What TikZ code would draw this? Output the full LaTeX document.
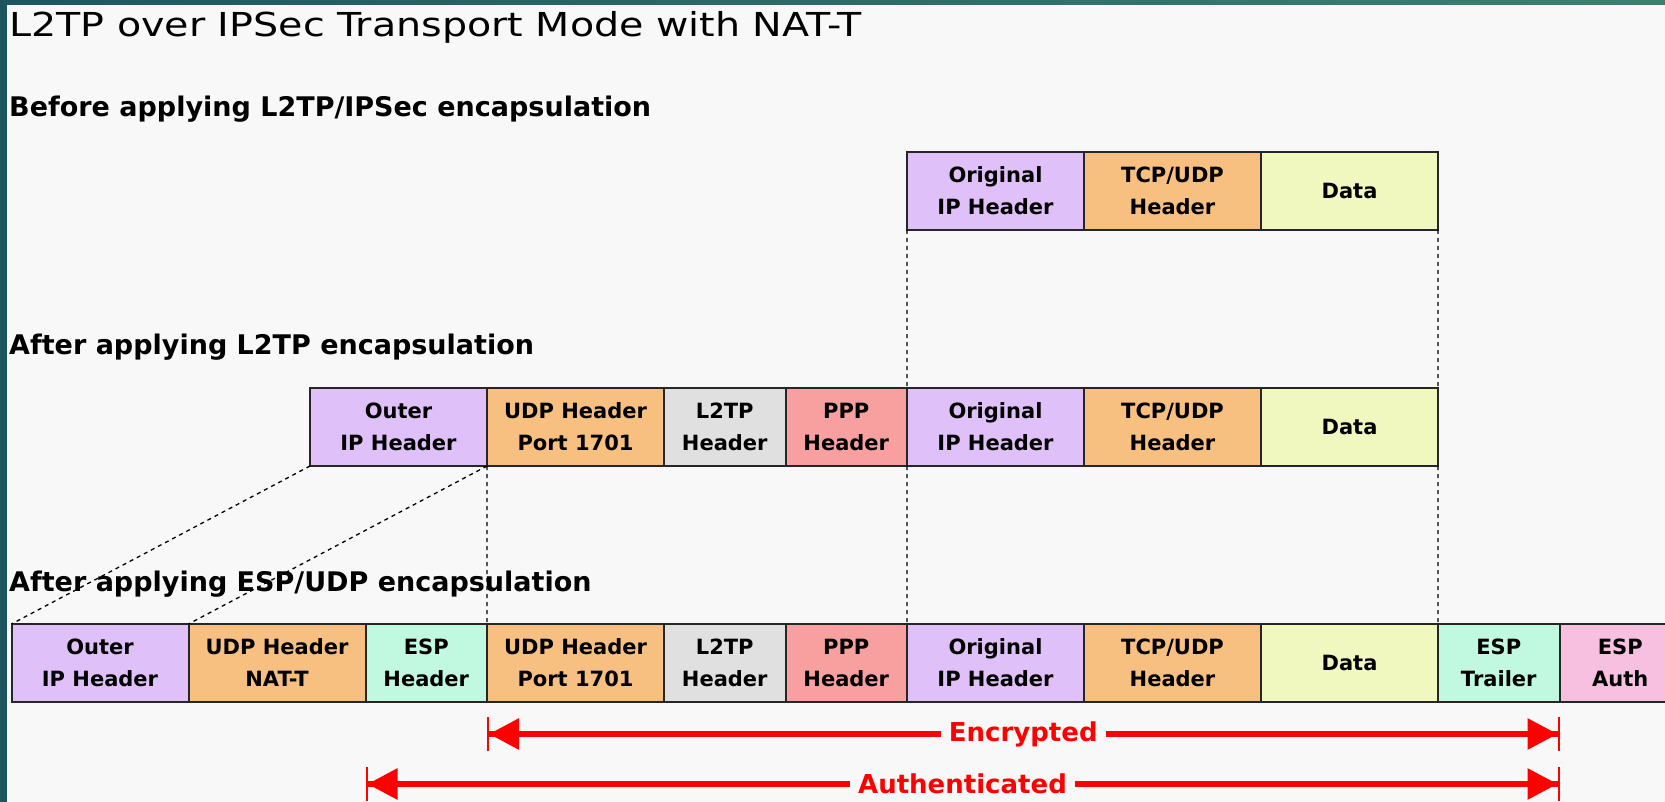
\documentclass[tikz,border=0pt]{standalone}
\usepackage{fontspec}
\setmainfont{DejaVu Sans}
\usetikzlibrary{arrows.meta, positioning}

\definecolor{bgc}{HTML}{F8F8F8}
\definecolor{tealA}{HTML}{1E5660}
\definecolor{tealB}{HTML}{3E8070}
\definecolor{purp}{HTML}{E0C0F8}
\definecolor{orng}{HTML}{F8C080}
\definecolor{datc}{HTML}{F0F8C0}
\definecolor{gry}{HTML}{E0E0E0}
\definecolor{salm}{HTML}{F8A0A0}
\definecolor{mint}{HTML}{C0F8E0}
\definecolor{pnk}{HTML}{F8C0E0}

\begin{document}
\begin{tikzpicture}[x=1pt, y=-1pt, node distance=0pt,
	main/.style = {draw=black!85, line width=2pt, outer sep=0pt, inner sep=0pt, minimum height=78pt, align=center, font=\fontsize{21}{32}\selectfont\bfseries},
	wide/.style = {main, minimum width=177pt},
	nbox/.style = {main, minimum width=121.5pt},
	lbl/.style = {anchor=west, inner sep=0pt, font=\fontsize{27}{30}\selectfont\bfseries},
	tag/.style = {fill=bgc, text=red, inner xsep=8pt, inner ysep=1pt, font=\fontsize{26}{28}\selectfont\bfseries},
	arr/.style = {red, line width=6pt, {Bar[width=34pt,line width=2pt]Triangle[length=30pt,width=30pt]}-{Triangle[length=30pt,width=30pt]Bar[width=34pt,line width=2pt]}}]
	\useasboundingbox (0,0) rectangle (1665,802);
	\fill[bgc] (0,0) rectangle (1665,802);
	\fill[tealA] (0,0) rectangle (7,802);
	\shade[left color=tealA, right color=tealB] (0,0) rectangle (1665,5);

	\node[anchor=base west, inner sep=0pt, font=\fontsize{33}{40}\selectfont] (title) at (9,37) {\scalebox{1.2}[1]{L2TP over IPSec Transport Mode with NAT-T}};
	\node[lbl] (s1) at (9,109) {Before applying L2TP/IPSec encapsulation};
	\node[lbl] (s2) at (9,347) {After applying L2TP encapsulation};
	\node[lbl] (s3) at (9,584) {After applying ESP/UDP encapsulation};

	\node[wide, fill=purp] (o1) at (995.5,191) {Original\\IP Header};
	\node[wide, fill=orng, right=of o1] (t1) {TCP/UDP\\Header};
	\node[wide, fill=datc, right=of t1] (d1) {Data};

	\node[wide, fill=purp, below=158pt of o1] (o2) {Original\\IP Header};
	\node[wide, fill=orng, right=of o2] (t2) {TCP/UDP\\Header};
	\node[wide, fill=datc, right=of t2] (d2) {Data};
	\node[nbox, fill=salm, left=of o2] (p2) {PPP\\Header};
	\node[nbox, fill=gry, left=of p2] (l2) {L2TP\\Header};
	\node[wide, fill=orng, left=of l2] (u2) {UDP Header\\Port 1701};
	\node[wide, fill=purp, left=of u2] (i2) {Outer\\IP Header};

	\node[wide, fill=purp, below=158pt of o2] (o3) {Original\\IP Header};
	\node[wide, fill=orng, right=of o3] (t3) {TCP/UDP\\Header};
	\node[wide, fill=datc, right=of t3] (d3) {Data};
	\node[nbox, fill=mint, right=of d3] (et3) {ESP\\Trailer};
	\node[nbox, fill=pnk, right=of et3] (ea3) {ESP\\Auth};
	\node[nbox, fill=salm, left=of o3] (p3) {PPP\\Header};
	\node[nbox, fill=gry, left=of p3] (l3) {L2TP\\Header};
	\node[wide, fill=orng, left=of l3] (u3) {UDP Header\\Port 1701};
	\node[nbox, fill=mint, left=of u3] (eh3) {ESP\\Header};
	\node[wide, fill=orng, left=of eh3] (n3) {UDP Header\\NAT-T};
	\node[wide, fill=purp, left=of n3] (i3) {Outer\\IP Header};

	\path[draw, dash pattern=on 4pt off 4pt, line width=1.3pt]
	(o1.south west) -- (o2.north west)
	(d1.south east) -- (d2.north east)
	(o2.south west) -- (o3.north west)
	(d2.south east) -- (d3.north east)
	(u2.south west) -- (u3.north west)
	(i2.south west) -- (i3.north west)
	(i2.south east) -- (i3.north east);

	\coordinate[below=32pt of u3.south west] (e1);
	\coordinate[below=32pt of et3.south east] (e2);
	\coordinate[below=82pt of eh3.south west] (a1);
	\coordinate[below=82pt of et3.south east] (a2);
	\draw[arr] (e1) -- node[tag] {Encrypted} (e2);
	\draw[arr] (a1) -- node[tag] {Authenticated} (a2);
\end{tikzpicture}
\end{document}
